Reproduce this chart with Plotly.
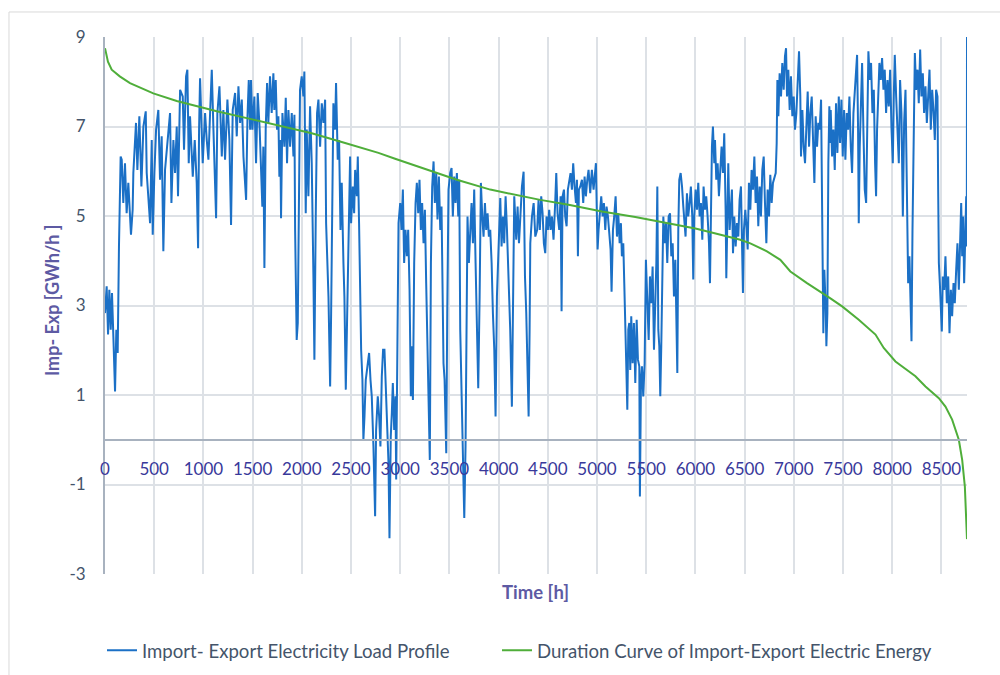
import plotly.graph_objects as go

# Hourly import/export load profile (GWh/h), sampled along the year
load_hours = [
    0, 17, 31, 44, 58, 71, 85, 102, 115, 129, 142, 159, 170, 186, 203, 220, 237, 254, 264, 281,
    288, 315, 329, 349, 370, 390, 414, 424, 458, 475, 485, 502, 519, 542, 559, 576, 593, 610, 644, 661,
    675, 695, 712, 729, 742, 763, 790, 803, 824, 837, 851, 864, 892, 912, 932, 946, 956, 966, 993, 1017,
    1034, 1051, 1068, 1085, 1102, 1119, 1129, 1142, 1163, 1187, 1203, 1220, 1244, 1264, 1281, 1298, 1322, 1339, 1356, 1373,
    1390, 1407, 1417, 1434, 1448, 1461, 1475, 1484, 1498, 1518, 1535, 1552, 1572, 1586, 1599, 1609, 1620, 1633, 1647, 1660,
    1677, 1694, 1711, 1721, 1735, 1748, 1762, 1772, 1782, 1789, 1803, 1823, 1837, 1850, 1864, 1881, 1898, 1915, 1925, 1932,
    1948, 1959, 1972, 1982, 1999, 2016, 2026, 2040, 2050, 2067, 2084, 2101, 2118, 2128, 2142, 2155, 2169, 2186, 2203, 2220,
    2237, 2247, 2271, 2288, 2298, 2311, 2321, 2338, 2348, 2365, 2379, 2393, 2406, 2423, 2433, 2447, 2460, 2474, 2491, 2501,
    2518, 2532, 2542, 2559, 2569, 2582, 2593, 2603, 2616, 2626, 2637, 2650, 2671, 2684, 2698, 2711, 2728, 2745, 2755, 2772,
    2786, 2799, 2813, 2826, 2840, 2854, 2867, 2881, 2891, 2904, 2915, 2925, 2939, 2952, 2959, 2973, 2983, 3000, 3013, 3027,
    3040, 3054, 3068, 3081, 3095, 3108, 3118, 3129, 3142, 3156, 3169, 3183, 3196, 3210, 3223, 3237, 3251, 3264, 3278, 3291,
    3301, 3312, 3325, 3339, 3352, 3366, 3379, 3393, 3407, 3420, 3430, 3440, 3451, 3461, 3468, 3478, 3491, 3508, 3522, 3535,
    3549, 3562, 3576, 3590, 3600, 3610, 3623, 3637, 3651, 3664, 3671, 3684, 3698, 3712, 3725, 3739, 3752, 3766, 3779, 3793,
    3807, 3820, 3834, 3847, 3861, 3874, 3888, 3901, 3915, 3929, 3942, 3956, 3969, 3983, 4000, 4017, 4030, 4044, 4057, 4071,
    4085, 4101, 4118, 4135, 4146, 4159, 4179, 4193, 4207, 4220, 4237, 4254, 4268, 4281, 4295, 4305, 4315, 4322, 4339, 4356,
    4373, 4392, 4406, 4419, 4433, 4447, 4460, 4474, 4487, 4501, 4514, 4528, 4542, 4558, 4575, 4586, 4599, 4616, 4630, 4640,
    4650, 4664, 4677, 4691, 4704, 4718, 4731, 4745, 4758, 4772, 4786, 4796, 4806, 4816, 4830, 4847, 4860, 4874, 4887, 4901,
    4914, 4931, 4948, 4965, 4979, 4989, 4999, 5006, 5016, 5030, 5043, 5057, 5070, 5084, 5097, 5111, 5125, 5138, 5148, 5162,
    5175, 5189, 5203, 5216, 5230, 5243, 5253, 5267, 5277, 5287, 5297, 5308, 5318, 5328, 5338, 5348, 5362, 5375, 5389, 5403,
    5416, 5430, 5436, 5447, 5457, 5470, 5484, 5497, 5511, 5525, 5538, 5552, 5565, 5579, 5592, 5603, 5613, 5623, 5633, 5643,
    5653, 5664, 5674, 5687, 5701, 5714, 5728, 5742, 5755, 5769, 5782, 5796, 5809, 5816, 5826, 5836, 5850, 5864, 5877, 5891,
    5900, 5914, 5927, 5941, 5954, 5968, 5978, 5988, 6002, 6016, 6029, 6043, 6056, 6070, 6083, 6097, 6110, 6124, 6138, 6148,
    6158, 6168, 6178, 6192, 6199, 6212, 6226, 6239, 6253, 6266, 6280, 6293, 6307, 6314, 6324, 6334, 6348, 6361, 6371, 6382,
    6395, 6409, 6422, 6436, 6449, 6463, 6473, 6483, 6493, 6507, 6521, 6531, 6544, 6558, 6571, 6585, 6599, 6612, 6626, 6639,
    6653, 6666, 6680, 6694, 6707, 6721, 6734, 6748, 6761, 6775, 6788, 6802, 6816, 6826, 6833, 6843, 6856, 6870, 6883, 6897,
    6910, 6921, 6931, 6944, 6958, 6971, 6985, 6999, 7012, 7026, 7039, 7053, 7066, 7073, 7087, 7100, 7114, 7127, 7141, 7155,
    7168, 7182, 7195, 7209, 7222, 7236, 7249, 7263, 7277, 7287, 7294, 7300, 7310, 7324, 7331, 7341, 7351, 7361, 7372, 7375,
    7389, 7402, 7416, 7429, 7443, 7457, 7470, 7484, 7497, 7511, 7524, 7538, 7552, 7565, 7579, 7592, 7606, 7619, 7633, 7643,
    7653, 7660, 7670, 7680, 7694, 7707, 7721, 7735, 7748, 7758, 7772, 7785, 7799, 7813, 7826, 7836, 7846, 7857, 7870, 7884,
    7897, 7911, 7924, 7938, 7952, 7965, 7979, 7992, 8006, 8016, 8026, 8040, 8053, 8067, 8080, 8094, 8108, 8121, 8135, 8145,
    8152, 8162, 8175, 8185, 8196, 8206, 8216, 8230, 8243, 8257, 8270, 8284, 8297, 8311, 8324, 8338, 8352, 8365, 8379, 8392,
    8406, 8419, 8433, 8446, 8460, 8467, 8474, 8484, 8494, 8504, 8514, 8528, 8541, 8555, 8569, 8582, 8596, 8609, 8623, 8636,
    8650, 8663, 8677, 8691, 8701, 8711, 8721, 8731, 8741, 8752, 8758, 8760,
]
load_values = [
    2.83, 3.43, 2.35, 3.35, 2.46, 3.28, 2.31, 1.08, 2.46, 1.94, 4.32, 6.33, 6.26, 5.29, 6.18, 5.06, 5.74, 4.84, 4.58, 5.14,
    5.96, 7.08, 6.03, 7.23, 5.66, 7.00, 7.34, 5.96, 4.84, 6.70, 4.58, 5.96, 6.93, 7.37, 5.81, 6.78, 4.21, 6.03, 6.78, 7.30,
    5.29, 6.70, 5.96, 7.00, 5.44, 7.82, 7.67, 6.48, 8.12, 8.27, 6.18, 7.23, 5.88, 6.70, 5.74, 4.28, 6.93, 8.08, 6.18, 7.30,
    6.70, 6.26, 7.30, 8.27, 6.93, 5.29, 4.95, 7.30, 7.90, 6.33, 7.37, 6.26, 7.60, 6.70, 4.80, 7.37, 7.75, 6.78, 7.90, 7.08,
    7.60, 6.33, 5.96, 5.36, 7.23, 8.04, 6.93, 8.04, 6.93, 7.67, 6.18, 7.75, 6.93, 5.88, 5.21, 6.55, 3.84, 6.93, 7.97, 7.08,
    8.12, 7.30, 8.19, 7.37, 8.04, 6.93, 7.23, 5.88, 6.70, 4.95, 7.30, 6.55, 7.64, 6.18, 7.37, 6.55, 7.30, 6.33, 7.26, 4.69,
    2.23, 2.61, 6.18, 7.82, 8.12, 7.67, 8.23, 5.06, 6.93, 5.44, 7.45, 6.18, 3.65, 1.79, 5.06, 7.30, 7.60, 6.55, 7.52, 7.08,
    7.60, 4.84, 3.20, 1.19, 2.83, 4.99, 7.52, 6.93, 7.97, 6.26, 6.70, 4.69, 5.74, 3.95, 3.20, 1.12, 2.61, 4.69, 6.33, 4.84,
    5.66, 5.06, 6.03, 5.44, 6.33, 4.84, 3.20, 2.01, 1.34, 0.00, 0.52, 1.34, 1.71, 1.94, 1.34, 0.97, -0.15, -1.71, 0.22, 0.97,
    0.52, -0.15, 1.42, 2.01, 2.01, 1.27, 0.22, -0.52, -2.20, 0.07, 0.60, 1.27, 0.22, 0.97, -0.89, 2.83, 4.84, 5.29, 4.69, 5.59,
    3.95, 4.69, 4.10, 4.69, 3.35, 0.97, 2.09, 0.89, 3.95, 5.29, 5.74, 5.06, 5.81, 4.69, 5.29, 4.39, 5.14, 3.50, 1.71, 0.52,
    -0.45, 3.95, 5.66, 6.22, 5.29, 5.96, 4.92, 5.88, 4.69, 5.21, 3.35, 1.71, 1.34, 0.52, -0.30, 2.83, 5.59, 5.96, 6.07, 4.99,
    5.88, 5.29, 5.96, 4.99, 5.81, 2.46, 1.27, 0.22, -1.75, -0.15, 2.46, 4.99, 3.95, 4.69, 5.29, 4.39, 5.59, 3.95, 2.46, 1.15,
    3.20, 5.74, 4.99, 4.54, 5.29, 4.69, 5.06, 4.54, 4.69, 3.95, 2.83, 2.01, 0.52, 3.20, 4.32, 5.40, 4.32, 4.99, 4.39, 5.44,
    4.69, 3.58, 2.46, 0.74, 2.83, 5.44, 4.47, 5.21, 4.39, 4.99, 5.66, 5.99, 3.65, 2.83, 1.71, 0.52, 2.46, 4.39, 4.99, 5.29,
    4.54, 4.69, 5.36, 4.69, 5.44, 5.06, 4.39, 4.17, 4.99, 4.69, 5.14, 4.69, 4.99, 4.47, 5.29, 5.96, 5.06, 4.69, 5.44, 2.87,
    5.44, 5.59, 4.99, 4.77, 5.59, 5.74, 5.96, 5.59, 6.18, 5.66, 5.29, 5.81, 4.10, 5.59, 5.66, 5.81, 5.29, 5.88, 5.44, 5.81,
    6.03, 5.51, 6.03, 5.59, 5.88, 6.18, 4.99, 4.25, 4.69, 5.06, 5.44, 4.99, 5.29, 4.69, 5.21, 4.99, 4.69, 4.25, 3.31, 4.69,
    4.99, 5.44, 4.54, 5.06, 4.39, 4.84, 4.10, 4.39, 3.50, 2.83, 1.71, 0.67, 2.46, 2.61, 1.56, 2.76, 1.71, 2.61, 1.27, 2.68,
    1.79, 1.64, -1.27, 1.34, 1.64, 0.97, 1.71, 4.02, 3.20, 2.23, 3.65, 3.05, 3.87, 2.01, 3.05, 3.95, 5.66, 2.46, 2.09, 0.97,
    2.09, 4.10, 4.99, 4.39, 4.84, 3.95, 4.99, 5.06, 4.10, 4.39, 3.20, 4.02, 2.61, 1.49, 4.69, 5.81, 5.96, 5.66, 5.21, 4.69,
    4.54, 5.51, 4.99, 5.29, 5.66, 4.99, 3.58, 4.99, 5.59, 5.14, 5.74, 4.99, 5.29, 4.47, 5.66, 5.14, 5.44, 4.99, 4.39, 3.50,
    5.81, 6.55, 7.00, 6.18, 6.70, 5.81, 6.18, 5.44, 6.03, 6.55, 5.96, 6.85, 5.14, 3.61, 4.84, 6.18, 4.69, 5.44, 5.59, 4.17,
    4.99, 4.32, 4.84, 4.54, 5.36, 5.66, 4.10, 3.28, 4.69, 5.14, 4.69, 4.25, 5.74, 5.14, 6.03, 5.59, 6.33, 5.29, 5.88, 4.77,
    5.66, 4.99, 6.03, 6.33, 5.29, 4.39, 5.59, 4.99, 5.92, 5.29, 5.74, 5.88, 5.96, 6.63, 8.04, 7.23, 8.19, 7.67, 8.42, 7.82,
    8.57, 8.75, 7.67, 8.27, 7.37, 8.12, 7.23, 7.67, 6.93, 7.30, 8.04, 8.68, 7.67, 6.33, 7.37, 6.55, 6.18, 6.93, 7.78, 6.55,
    7.30, 7.67, 6.63, 5.74, 7.23, 6.55, 7.08, 6.93, 7.60, 5.44, 3.95, 2.38, 3.80, 2.98, 2.09, 2.83, 6.18, 7.45, 6.63, 7.37,
    6.33, 6.93, 6.03, 7.52, 6.41, 7.67, 6.63, 7.60, 6.33, 7.37, 6.26, 7.30, 6.93, 7.67, 6.55, 5.96, 7.30, 7.82, 8.49, 8.60,
    6.93, 4.84, 6.55, 7.67, 8.42, 6.93, 5.59, 5.29, 7.67, 8.68, 8.04, 8.42, 7.30, 7.82, 6.18, 5.44, 6.93, 7.67, 8.42, 8.04,
    8.53, 7.82, 8.27, 7.30, 8.04, 7.45, 8.27, 7.00, 6.18, 7.67, 8.60, 7.67, 6.93, 6.18, 8.04, 7.30, 4.99, 7.08, 7.82, 6.18,
    3.95, 3.50, 4.10, 3.20, 2.20, 4.69, 6.93, 8.64, 7.82, 8.27, 7.52, 8.72, 7.67, 8.19, 7.30, 7.90, 7.08, 7.67, 8.27, 6.93,
    7.82, 7.37, 6.70, 7.82, 7.67, 5.59, 3.95, 3.50, 2.83, 2.42, 3.65, 3.35, 4.10, 3.05, 3.65, 2.38, 3.35, 2.76, 3.50, 3.05,
    3.80, 4.39, 3.35, 4.99, 5.29, 4.10, 4.99, 3.50, 4.69, 5.44, 4.32, 9.00,
]

# Duration curve: the same energy sorted from highest to lowest hour
duration_hours = [
    0, 30, 68, 150, 254, 400, 491, 729, 966, 1136, 1475, 1762, 2101, 2440, 2779, 2948, 3237, 3576, 3915, 4254,
    4423, 4711, 5050, 5389, 5728, 6000, 6185, 6456, 6558, 6727, 6863, 6965, 7134, 7270, 7372, 7491, 7660, 7830, 7914, 8033,
    8236, 8338, 8474, 8541, 8609, 8677, 8711, 8738, 8760,
]
duration_values = [
    8.75, 8.45, 8.27, 8.12, 7.97, 7.82, 7.74, 7.57, 7.43, 7.34, 7.17, 7.02, 6.85, 6.63, 6.41, 6.28, 6.07, 5.81, 5.59, 5.44,
    5.36, 5.25, 5.10, 4.98, 4.84, 4.72, 4.62, 4.47, 4.39, 4.21, 4.02, 3.76, 3.50, 3.31, 3.16, 2.98, 2.68, 2.35, 2.05, 1.75,
    1.42, 1.19, 0.93, 0.74, 0.45, 0.00, -0.45, -1.04, -2.22,
]

x_ticks = list(range(0, 9000, 500))
y_ticks = [-3, -1, 1, 3, 5, 7, 9]
y_tick_text = ["-3", "-1", "1", "3", "5", "7", "9"]

FONT = "Lato"
GRID = "#dde1e6"
AXIS = "#a8b2bf"
TITLE_COLOR = "#5d5aa3"
LEGEND_FONT = dict(family=FONT, size=18.6, color="#44546a")

fig = go.Figure()
fig.add_trace(go.Scatter(
    x=load_hours, y=load_values, mode="lines",
    name="Import- Export Electricity Load Profile",
    line=dict(color="#1b70c6", width=2),
    legend="legend",
))
fig.add_trace(go.Scatter(
    x=duration_hours, y=duration_values, mode="lines",
    name="Duration Curve of Import-Export Electric Energy",
    line=dict(color="#4fae3a", width=2),
    legend="legend2",
))

legend_common = dict(
    orientation="h", xref="container", xanchor="left",
    yref="container", y=0.036, yanchor="middle",
    font=LEGEND_FONT, bgcolor="rgba(0,0,0,0)",
)

fig.update_layout(
    width=1000, height=675,
    margin=dict(l=105, r=33, t=37, b=101, autoexpand=False),
    paper_bgcolor="white", plot_bgcolor="white",
    font=dict(family=FONT, size=17, color="#44546a"),
    showlegend=True,
    legend=dict(x=0.102, **legend_common),
    legend2=dict(x=0.497, **legend_common),
    xaxis=dict(
        range=[0, 8760], tickvals=x_ticks, ticktext=[str(v) for v in x_ticks],
        anchor="free", position=0.25,
        showgrid=True, gridcolor=GRID, gridwidth=1.5,
        showline=True, linecolor=AXIS, linewidth=2,
        zeroline=False, ticks="",
        tickfont=dict(family=FONT, size=17, color="#38389a"),
        ticklabelstandoff=14,
    ),
    yaxis=dict(
        range=[-3, 9], tickvals=y_ticks, ticktext=y_tick_text,
        showgrid=True, gridcolor=GRID, gridwidth=1.5,
        showline=True, linecolor=AXIS, linewidth=2,
        zeroline=False, ticks="",
        tickfont=dict(family=FONT, size=17, color="#44546a"),
        ticklabelstandoff=14,
    ),
    annotations=[
        dict(text="<b>Time [h]</b>", xref="paper", yref="paper", x=0.499, y=-0.033,
             xanchor="center", yanchor="middle", showarrow=False,
             font=dict(family=FONT, size=18.5, color=TITLE_COLOR)),
        dict(text="<b>Imp- Exp [GWh/h ]</b>", xref="paper", yref="paper", x=-0.0615, y=0.51,
             xanchor="center", yanchor="middle", textangle=-90, showarrow=False,
             font=dict(family=FONT, size=18, color=TITLE_COLOR)),
    ],
    shapes=[
        dict(type="rect", xref="paper", yref="paper", x0=-0.1114, x1=1.06, y0=-0.22, y1=1.0466,
             line=dict(color="#d9d9d9", width=1), fillcolor="rgba(0,0,0,0)", layer="below"),
    ],
)

fig.write_html("out.html")
